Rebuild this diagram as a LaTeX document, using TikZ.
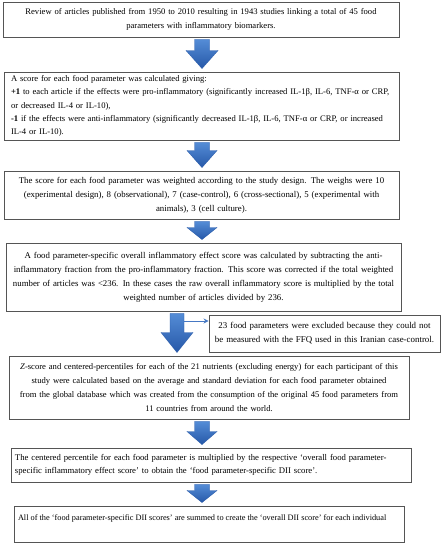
\documentclass[tikz,border=0pt]{standalone}
\usepackage{fontspec}
\setmainfont{Liberation Serif}
\usetikzlibrary{arrows.meta,calc}
\definecolor{boxline}{RGB}{85,85,85}
\definecolor{arrlight}{RGB}{84,140,214}
\definecolor{arrdark}{RGB}{38,88,168}
\definecolor{sideblue}{RGB}{70,120,195}
\tikzset{
  flowbox/.style={draw=boxline, line width=0.9pt, rectangle, inner sep=0pt, fill=white,
    font=\fontsize{8.8}{14}\selectfont},
  blockarr/.style={top color=arrlight, bottom color=arrdark, draw=arrdark, line width=0.3pt},
}
% #1 from node, #2 to node, #3 x-coordinate name, #4 head length, #5 half shaft, #6 half head
\newcommand\flowarrow[6]{%
  \path[blockarr] let \p1=(#1.south -| #3), \p2=(#2.north -| #3) in
    (\x1-#5,\y1-2pt) -- (\x1+#5,\y1-2pt) -- (\x1+#5,\y2+3pt+#4) -- (\x1+#6,\y2+3pt+#4)
    -- (\x1,\y2+3pt) -- (\x1-#6,\y2+3pt+#4) -- (\x1-#5,\y2+3pt+#4) -- cycle;}
\begin{document}
\begin{tikzpicture}
\useasboundingbox (0,0) rectangle (441pt,-550pt);
\fill[white] (0,0) rectangle (441pt,-550pt);
\coordinate (ax) at (202pt,0);
\coordinate (bx) at (177pt,0);

\node[flowbox, minimum width=396pt, minimum height=35pt, text width=392pt, align=center,
      font=\fontsize{8.6}{14}\selectfont]
  (b1) at (201pt,-19.5pt)
  {Review of articles published from 1950 to 2010 resulting in 1943 studies linking a total of 45 food\\
   parameters with inflammatory biomarkers.};

\node[flowbox, minimum width=395pt, minimum height=68pt, text width=381pt, align=left,
      font=\fontsize{8.6}{13.4}\selectfont]
  (b2) at (201.5pt,-106pt)
  {A score for each food parameter was calculated giving:\\
   \makebox[\linewidth][s]{\textbf{+1} to each article if the effects were pro-inflammatory (significantly increased IL-1β, IL-6, TNF-α or CRP,}\\
   or decreased IL-4 or IL-10),\\
   \makebox[\linewidth][s]{\textbf{-1} if the effects were anti-inflammatory (significantly decreased IL-1β, IL-6, TNF-α or CRP, or increased}\\
   IL-4 or IL-10).};

\node[flowbox, minimum width=395pt, minimum height=48pt, text width=392pt, align=center]
  (b3) at (201.5pt,-195pt)
  {The score for each food parameter was weighted according to the study design. The weighs were 10\\
   (experimental design), 8 (observational), 7 (case-control), 6 (cross-sectional), 5 (experimental with\\
   animals), 3 (cell culture).};

\node[flowbox, minimum width=395pt, minimum height=68pt, text width=392pt, align=center]
  (b4) at (203.5pt,-277pt)
  {A food parameter-specific overall inflammatory effect score was calculated by subtracting the anti-\\
   inflammatory fraction from the pro-inflammatory fraction. This score was corrected if the total weighted\\
   number of articles was <236. In these cases the raw overall inflammatory score is multiplied by the total\\
   weighted number of articles divided by 236.};

\node[flowbox, minimum width=231pt, minimum height=37pt, text width=229pt, align=center,
      font=\fontsize{8.9}{14}\selectfont]
  (side) at (324.5pt,-333.5pt)
  {23 food parameters were excluded because they could not\\
   be measured with the FFQ used in this Iranian case-control.};

\node[flowbox, minimum width=400pt, minimum height=63pt, text width=398pt, align=center,
      font=\fontsize{8.6}{14}\selectfont]
  (b5) at (209pt,-387.5pt)
  {\textit{Z}-score and centered-percentiles for each of the 21 nutrients (excluding energy) for each participant of this\\
   study were calculated based on the average and standard deviation for each food parameter obtained\\
   from the global database which was created from the consumption of the original 45 food parameters from\\
   11 countries from around the world.};

\node[flowbox, minimum width=400pt, minimum height=34pt, text width=392pt, align=left,
      font=\fontsize{8.7}{12.5}\selectfont]
  (b6) at (211pt,-465pt)
  {\makebox[\linewidth][s]{The centered percentile for each food parameter is multiplied by the respective ‘overall food parameter-}\\
   specific inflammatory effect score’ to obtain the ‘food parameter-specific DII score’.};

\node[flowbox, minimum width=390pt, minimum height=36pt, font=\fontsize{8.3}{10}\selectfont]
  (b7) at (209pt,-524pt)
  {\parbox[c][18pt][t]{382pt}{All of the ‘food parameter-specific DII scores’ are summed to create the ‘overall DII score’ for each individual}};

\flowarrow{b1}{b2}{ax}{18pt}{7.5pt}{16pt}
\flowarrow{b2}{b3}{ax}{17pt}{7.5pt}{15pt}
\flowarrow{b3}{b4}{ax}{12pt}{7.5pt}{15pt}
\flowarrow{b4}{b5}{bx}{20pt}{7pt}{16pt}
\flowarrow{b5}{b6}{ax}{13pt}{7.5pt}{15pt}
\flowarrow{b6}{b7}{ax}{12pt}{7.5pt}{15pt}

\coordinate (sidestart) at (184pt,-321pt);
\draw[sideblue, line width=1pt, -{Stealth[length=5pt,width=5pt]}] (sidestart) -- (side.west |- sidestart);
\end{tikzpicture}
\end{document}
